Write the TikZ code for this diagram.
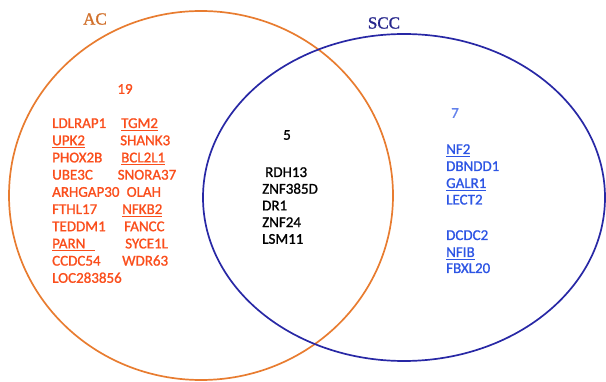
\documentclass[tikz,border=0pt]{standalone}
\usepackage{fontspec}
\setmainfont{Carlito}
\newfontfamily\genefont{Carlito}[FakeBold=1.2]
\newfontfamily\setfont{Liberation Serif}[FakeBold=1.2]

\definecolor{acline}{RGB}{232,124,48}
\definecolor{actext}{RGB}{250,78,28}
\definecolor{sccline}{RGB}{40,40,165}
\definecolor{scctext}{RGB}{45,85,228}
\definecolor{scclabel}{RGB}{38,38,140}

% underline for the marked genes
\newcommand{\ulgene}[1]{\setbox0\hbox{#1}\rlap{\vrule height -1.7pt depth 2.9pt width \wd0}\box0}

\tikzset{
  gene/.style={anchor=base west, inner sep=0pt, font=\genefont\fontsize{15}{18}\selectfont},
  acgene/.style={gene, text=actext},
  sccgene/.style={gene, text=scctext},
  bothgene/.style={gene, text=black},
  count/.style={inner sep=0pt, font=\genefont\fontsize{15}{18}\selectfont},
  setlabel/.style={inner sep=0pt, font=\setfont\fontsize{17}{20}\selectfont}
}

\begin{document}
\begin{tikzpicture}[x=1pt, y=-1pt]
    % 1. Khung hình
    \useasboundingbox (0,0) rectangle (606,382);

    % 2. Hai tập hợp
    \draw[acline, line width=1.7pt] (201,195.5) ellipse [x radius=192, y radius=184.5];
    \draw[sccline, line width=1.7pt] (404,197.5) ellipse [x radius=201, y radius=163.5];

    % 3. Tên tập hợp
    \node[setlabel, text=acline!90!black] (ac) at (95,19) {AC};
    \node[setlabel, text=scclabel] (scc) at (384,23) {SCC};

    % 4. Số lượng gen
    \node[count, text=actext] (n19) at (125,89) {19};
    \node[count, text=black] (n5) at (287,135) {5};
    \node[count, text=scctext!75!white] (n7) at (455,113) {7};

    % 5. Gen chỉ có ở AC (cột trái)
    \node[acgene] (ldlrap1) at (52,128) {LDLRAP1};
    \node[acgene] (upk2) at (52,145.2) {\ulgene{UPK2}};
    \node[acgene] (phox2b) at (52,162.4) {PHOX2B};
    \node[acgene] (ube3c) at (52,179.6) {UBE3C};
    \node[acgene] (arhgap30) at (52,196.8) {ARHGAP30};
    \node[acgene] (fthl17) at (52,214) {FTHL17};
    \node[acgene] (teddm1) at (52,231.2) {TEDDM1};
    \node[acgene] (parn) at (52,248.4) {\ulgene{PARN\hspace{10pt}}};
    \node[acgene] (ccdc54) at (52,265.6) {CCDC54};
    \node[acgene] (loc283856) at (52,282.8) {LOC283856};

    % 6. Gen chỉ có ở AC (cột phải)
    \node[acgene] (tgm2) at (121,128) {\ulgene{TGM2}};
    \node[acgene] (shank3) at (120,145.2) {SHANK3};
    \node[acgene] (bcl2l1) at (121,162.4) {\ulgene{BCL2L1}};
    \node[acgene] (snora37) at (117.5,179.6) {SNORA37};
    \node[acgene] (olah) at (126.5,196.8) {OLAH};
    \node[acgene] (nfkb2) at (122,214) {\ulgene{NFKB2}};
    \node[acgene] (fancc) at (124,231.2) {FANCC};
    \node[acgene] (syce1l) at (125,248.4) {SYCE1L};
    \node[acgene] (wdr63) at (122,265.6) {WDR63};

    % 7. Gen chung
    \node[bothgene] (rdh13) at (265,177) {RDH13};
    \node[bothgene] (znf385d) at (262,193.7) {ZNF385D};
    \node[bothgene] (dr1) at (262,210.4) {DR1};
    \node[bothgene] (znf24) at (262,227.1) {ZNF24};
    \node[bothgene] (lsm11) at (262,243.8) {LSM11};

    % 8. Gen chỉ có ở SCC
    \node[sccgene] (nf2) at (446,154) {\ulgene{NF2}};
    \node[sccgene] (dbndd1) at (446,171) {DBNDD1};
    \node[sccgene] (galr1) at (446,188) {\ulgene{GALR1}};
    \node[sccgene] (lect2) at (446,204.5) {LECT2};
    \node[sccgene] (dcdc2) at (446,240) {DCDC2};
    \node[sccgene] (nfib) at (446,257) {\ulgene{NFIB}};
    \node[sccgene] (fbxl20) at (446,273) {FBXL20};
\end{tikzpicture}
\end{document}
